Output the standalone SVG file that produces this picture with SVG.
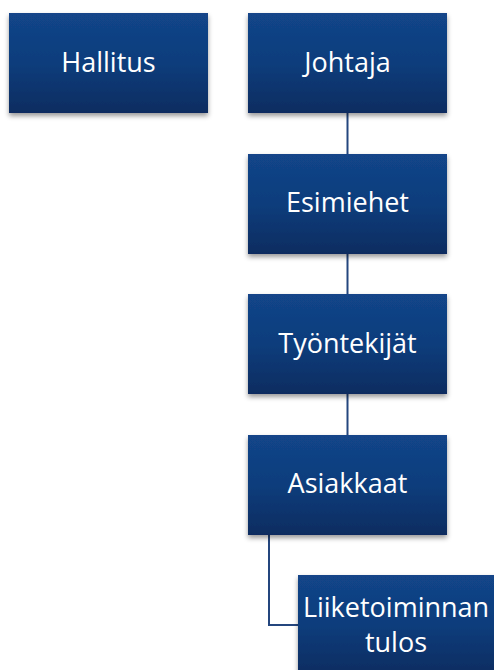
<svg xmlns="http://www.w3.org/2000/svg" width="494" height="670" viewBox="0 0 494 670">
<style>
.box{fill:url(#g);filter:url(#sh)}
.t{font-family:"Open Sans","Liberation Sans",sans-serif;font-size:27px;fill:#fff;text-anchor:middle}
.c{fill:none;stroke:#24467e;stroke-width:2}
</style>
<defs>
<linearGradient id="g" x1="0" y1="0" x2="0" y2="1">
<stop offset="0" stop-color="#124589"/>
<stop offset="0.5" stop-color="#0f3d7c"/>
<stop offset="1" stop-color="#0a2c60"/>
</linearGradient>
<filter id="sh" x="-10%" y="-10%" width="120%" height="130%">
<feDropShadow dx="0" dy="3" stdDeviation="2.5" flood-color="#000" flood-opacity="0.4"/>
</filter>
</defs>
<g id="connectors">
<path class="c" d="M347.5 113V154"/>
<path class="c" d="M347.5 254V294"/>
<path class="c" d="M347.5 394V435"/>
<path class="c" d="M269 534V625H298"/>
</g>
<g id="hallitus"><rect class="box" x="9" y="13" width="199" height="100"/><text class="t" x="108.5" y="72">Hallitus</text></g>
<g id="johtaja"><rect class="box" x="248" y="13" width="199" height="100"/><text class="t" x="347.5" y="72">Johtaja</text></g>
<g id="esimiehet"><rect class="box" x="248" y="154" width="199" height="100"/><text class="t" x="347.5" y="212">Esimiehet</text></g>
<g id="tyontekijat"><rect class="box" x="248" y="294" width="199" height="100"/><text class="t" x="347.5" y="353">Työntekijät</text></g>
<g id="asiakkaat"><rect class="box" x="248" y="435" width="199" height="100"/><text class="t" x="347.5" y="493">Asiakkaat</text></g>
<g id="tulos"><rect class="box" x="298" y="575" width="199" height="100"/><text class="t" x="396" y="617">Liiketoiminnan</text><text class="t" x="396" y="652">tulos</text></g>
</svg>
